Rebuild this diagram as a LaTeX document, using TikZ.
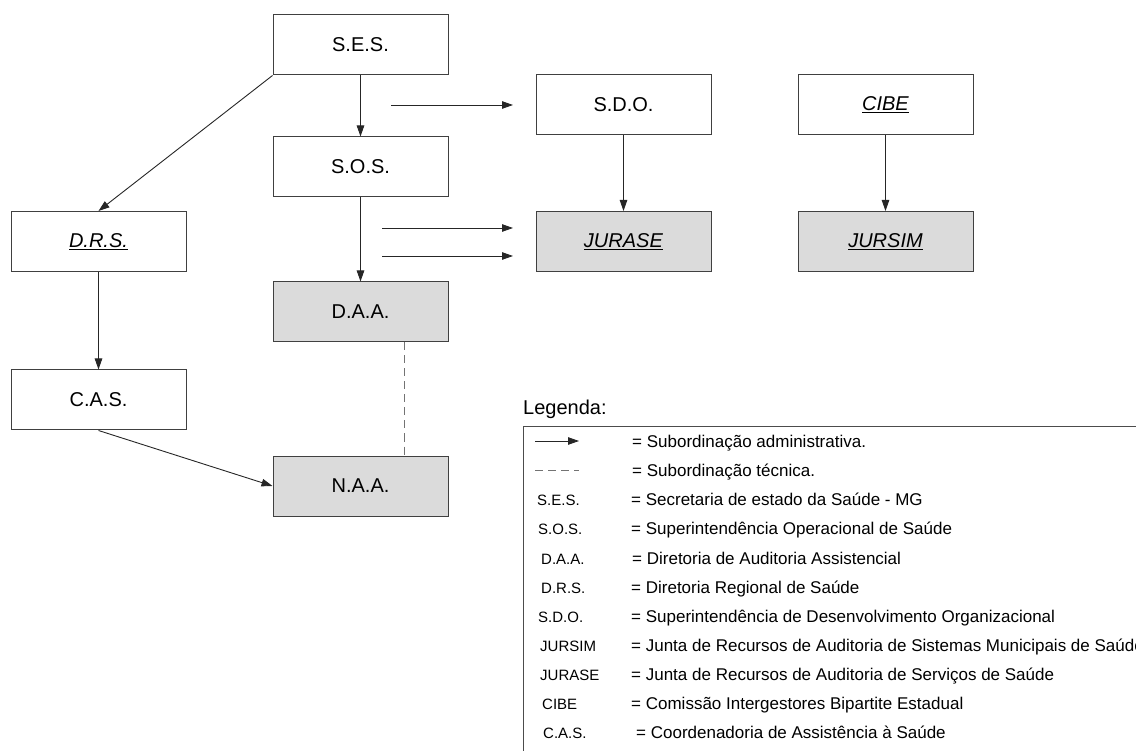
\documentclass[tikz,border=0pt]{standalone}
\usepackage{fontspec}
\setmainfont{Liberation Sans}
\usetikzlibrary{arrows.meta,calc}

\begin{document}
\begin{tikzpicture}[x=1pt,y=-1pt,
  org/.style={draw=black!75, line width=1pt, minimum width=175pt, minimum height=60pt, inner sep=0pt, font=\fontsize{20}{24}\selectfont},
  aud/.style={org, fill=black!14},
  arr/.style={draw=black!85, line width=0.9pt, -{Triangle[length=11pt,width=7.5pt]}},
  tec/.style={draw=black!55, line width=1pt, dash pattern=on 8pt off 5pt},
  abbr/.style={anchor=base west, inner sep=0pt, font=\fontsize{15}{18}\selectfont},
  desc/.style={anchor=base west, inner sep=0pt, font=\fontsize{17}{20}\selectfont}]
\useasboundingbox (0,0) rectangle (1136,751);
\clip (0,0) rectangle (1136,751);

\node[org] (SES) at (360.5,45) {S.E.S.};
\node[org] (SOS) at (360.5,167) {S.O.S.};
\node[aud] (DAA) at (360.5,312) {D.A.A.};
\node[aud] (NAA) at (360.5,486) {N.A.A.};
\node[org] (DRS) at (98.5,241.5) {\underline{\textit{D.R.S.}}};
\node[org] (CAS) at (98.5,400) {C.A.S.};
\node[org] (SDO) at (623.5,105) {S.D.O.};
\node[aud] (JURASE) at (623.5,241.5) {\underline{\textit{JURASE}}};
\node[org] (CIBE) at (885.5,105) {\underline{\textit{CIBE}}};
\node[aud] (JURSIM) at (885.5,241.5) {\underline{\textit{JURSIM}}};

\coordinate (s1) at (391,105);
\coordinate (e1) at (513,105);
\coordinate (s2) at (382,228);
\coordinate (e2) at (513,228);
\coordinate (s3) at (382,256);
\coordinate (e3) at (513,256);

\path[draw,arr] (SES) -- (SOS);
\path[draw,arr] (SOS) -- (DAA);
\path[draw,arr] (SES.south west) -- (DRS.north);
\path[draw,arr] (DRS) -- (CAS);
\path[draw,arr] (CAS.south) -- (NAA.west);
\path[draw,arr] (SDO) -- (JURASE);
\path[draw,arr] (CIBE) -- (JURSIM);
\path[draw,arr] (s1) -- (e1);
\path[draw,arr] (s2) -- (e2);
\path[draw,arr] (s3) -- (e3);
\path[draw,tec] ($(DAA.south)!.5!(DAA.south east)$) -- ($(NAA.north)!.5!(NAA.north east)$);

% legenda
\node[anchor=base west, inner sep=0pt, font=\fontsize{20}{24}\selectfont] (leg) at (523,414) {Legenda:};
\draw[draw=black!70, line width=1pt] (523,427) rectangle (1300,800);
\path[draw,arr] (535,441) -- (579,441);
\path[draw,tec] (535,470) -- (579,470);
\node[desc] (d1) at (632,447) {= Subordinação administrativa.};
\node[desc] (d2) at (632,476) {= Subordinação técnica.};
\node[abbr] (a3) at (537,505) {S.E.S.};
\node[desc] (d3) at (631,505) {= Secretaria de estado da Saúde - MG};
\node[abbr] (a4) at (538,534) {S.O.S.};
\node[desc] (d4) at (631,534) {= Superintendência Operacional de Saúde};
\node[abbr] (a5) at (541,564) {D.A.A.};
\node[desc] (d5) at (632,564) {= Diretoria de Auditoria Assistencial};
\node[abbr] (a6) at (541,593) {D.R.S.};
\node[desc] (d6) at (631,593) {= Diretoria Regional de Saúde};
\node[abbr] (a7) at (538,622) {S.D.O.};
\node[desc] (d7) at (631,622) {= Superintendência de Desenvolvimento Organizacional};
\node[abbr] (a8) at (540,651) {JURSIM};
\node[desc] (d8) at (631,651) {= Junta de Recursos de Auditoria de Sistemas Municipais de Saúde};
\node[abbr] (a9) at (540,680) {JURASE};
\node[desc] (d9) at (631,680) {= Junta de Recursos de Auditoria de Serviços de Saúde};
\node[abbr] (a10) at (542,709) {CIBE};
\node[desc] (d10) at (631,709) {= Comissão Intergestores Bipartite Estadual};
\node[abbr] (a11) at (543,738) {C.A.S.};
\node[desc] (d11) at (636,738) {= Coordenadoria de Assistência à Saúde};
\end{tikzpicture}
\end{document}
